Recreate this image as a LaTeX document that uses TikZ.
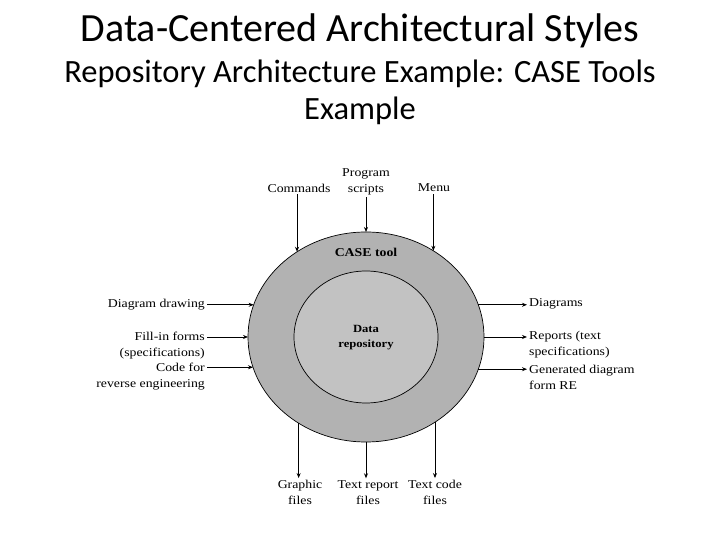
\documentclass[tikz,border=0pt]{standalone}
\usepackage{fontspec}
\setmainfont{Liberation Serif}
\newfontfamily\slidefont{Carlito}
\newfontfamily\figfont[FakeStretch=1.15]{Liberation Serif}
\definecolor{ringgray}{gray}{0.70}
\definecolor{coregray}{gray}{0.76}
\usetikzlibrary{arrows.meta,shapes.geometric,positioning}

\begin{document}
\begin{tikzpicture}[x=1pt, y=1pt, >={Stealth[length=5pt,width=4pt]},
    figlabel/.style={font=\figfont\fontsize{12}{16}\selectfont, inner sep=2pt},
    flow/.style={->, line width=0.8pt},
    blob/.style={ellipse, draw, line width=0.7pt, inner sep=0pt, outer sep=0pt}]
    \useasboundingbox (0,0) rectangle (720,540);

    % Slide heading
    \node[font=\slidefont\fontsize{40}{46}\selectfont] (title) at (360,509) {Data-Centered Architectural Styles};
    \node[font=\slidefont\fontsize{32.5}{37}\selectfont, align=center] (subtitle) at (360,448)
        {Repository Architecture Example: CASE Tools\\Example};

    % CASE tool ring with the data repository inside
    \node[blob, fill=ringgray, minimum width=236pt, minimum height=210pt] (tool) at (366,203) {};
    \node[blob, fill=coregray, minimum width=144pt, minimum height=132pt] (repo) at (366,203) {};
    \node[figlabel, font=\figfont\bfseries\fontsize{12}{16}\selectfont] (toolname) at (366,288) {CASE tool};
    \node[figlabel, font=\figfont\bfseries\fontsize{11}{15}\selectfont, align=center] (reponame) at (366,202.5) {Data\\repository};

    % Inputs from above
    \node[figlabel] (cmd) at (299,352) {Commands};
    \node[figlabel, align=center] (prog) at (366,358) {Program\\scripts};
    \node[figlabel] (menu) at (434,352) {Menu};
    \draw[flow] (tool.129 |- cmd.south) -- (tool.129);
    \draw[flow] (tool.90 |- prog.south) -- (tool.90);
    \draw[flow] (tool.52.2 |- menu.south) -- (tool.52.2);

    % Inputs from the left
    \node[figlabel, anchor=east] (ddraw) at (207,235) {Diagram drawing};
    \node[figlabel, anchor=east, align=right] (forms) at (207,194.5) {Fill-in forms\\(specifications)};
    \node[figlabel, anchor=east, align=right] (revcode) at (207,163) {Code for\\reverse engineering};
    \draw[flow] (ddraw.east |- tool.164.1) -- (tool.164.1);
    \draw[flow] (forms.east |- tool.180) -- (tool.180);
    \draw[flow] (revcode.east |- tool.195.9) -- (tool.195.9);

    % Outputs to the right
    \node[figlabel, anchor=west] (diag) at (527,236) {Diagrams};
    \node[figlabel, anchor=west, align=left] (reports) at (527,195.5) {Reports (text\\specifications)};
    \node[figlabel, anchor=west, align=left] (gendiag) at (527,162.5) {Generated diagram\\form RE};
    \draw[flow] (tool.16.4) -- (tool.16.4 -| diag.west);
    \draw[flow] (tool.0) -- (tool.0 -| reports.west);
    \draw[flow] (tool.344.6) -- (tool.344.6 -| gendiag.west);

    % Outputs below
    \node[figlabel, align=center] (graphic) at (300,47.5) {Graphic\\files};
    \node[figlabel, align=center] (txtrep) at (368,47.5) {Text report\\files};
    \node[figlabel, align=center] (txtcode) at (435,47.5) {Text code\\files};
    \draw[flow] (tool.232.8) -- (tool.232.8 |- graphic.north);
    \draw[flow] (tool.270) -- (tool.270 |- txtrep.north);
    \draw[flow] (tool.309) -- (tool.309 |- txtcode.north);
\end{tikzpicture}
\end{document}
